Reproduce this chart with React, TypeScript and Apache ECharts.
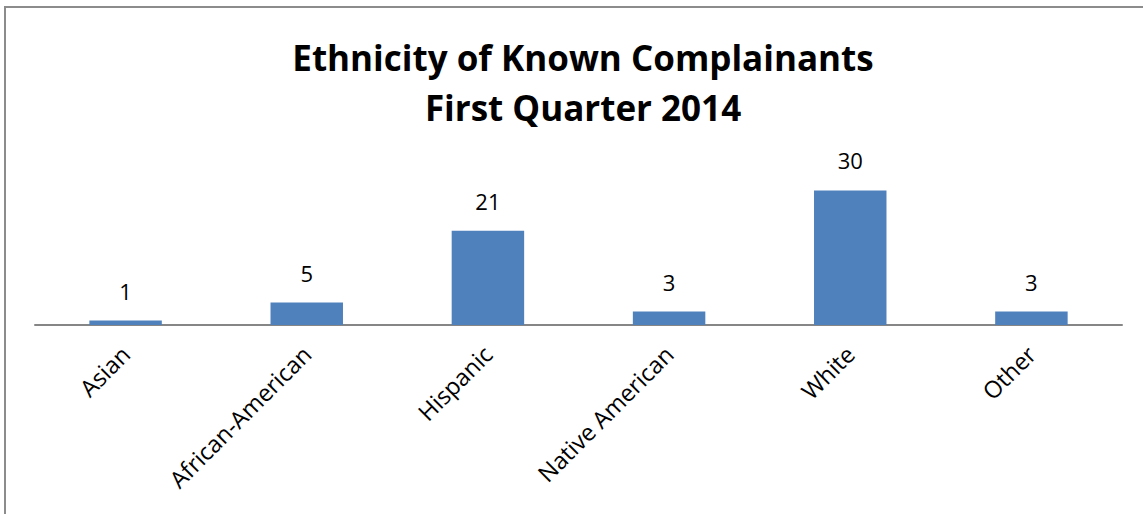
import React, { useEffect, useRef } from "react";
import * as echarts from "echarts";

const categories = ["Asian", "African-American", "Hispanic", "Native American", "White", "Other"];
const complainants = [1, 5, 21, 3, 30, 3];
const titleLines = ["Ethnicity of Known Complainants", "First Quarter 2014"];

const FONT = "'Open Sans', 'Noto Sans', sans-serif";

export default function App() {
  const ref = useRef<HTMLDivElement>(null);
  useEffect(() => {
    document.body.style.margin = "0";
    const chart = echarts.init(ref.current!, null, { renderer: "svg" });
    chart.setOption({
      animation: false,
      backgroundColor: "#ffffff",
      title: {
        text: titleLines.join("\n"),
        left: 578,
        top: 27,
        textAlign: "center",
        textStyle: {
          fontFamily: FONT,
          fontSize: 35,
          fontWeight: "bold",
          color: "#000000",
          lineHeight: 50,
        },
      },
      graphic: [
        {
          type: "rect",
          shape: { x: 5, y: 7, width: 1200, height: 600 },
          style: { fill: "none", stroke: "#8c8c8c", lineWidth: 2 },
          silent: true,
        },
      ],
      grid: { left: 35, right: 21, top: 168, bottom: 189, containLabel: false },
      xAxis: {
        type: "category",
        data: categories,
        axisLine: { show: true, lineStyle: { color: "#868686", width: 2 } },
        axisTick: { show: false },
        axisLabel: {
          rotate: 45,
          interval: 0,
          margin: 25,
          fontFamily: FONT,
          fontSize: 23.5,
          color: "#000000",
        },
      },
      yAxis: {
        type: "value",
        min: 0,
        max: 35,
        show: false,
        splitLine: { show: false },
      },
      series: [
        {
          type: "bar",
          data: complainants,
          barWidth: "40%",
          itemStyle: { color: "#4F81BD" },
          label: {
            show: true,
            position: "top",
            distance: 19,
            fontFamily: FONT,
            fontSize: 22,
            color: "#000000",
          },
        },
      ],
    });
    return () => chart.dispose();
  }, []);
  return <div ref={ref} style={{ position: "fixed", left: 0, top: 0, width: 1143, height: 514 }} />;
}
